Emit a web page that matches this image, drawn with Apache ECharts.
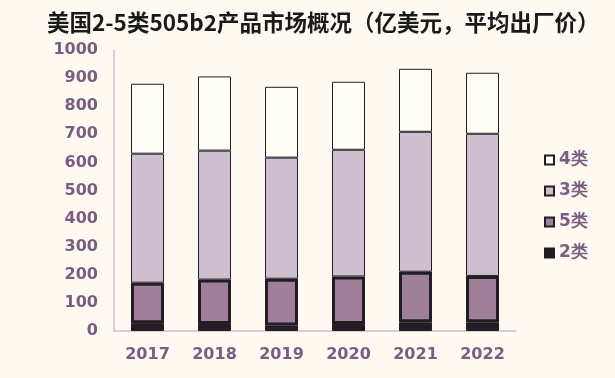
<!DOCTYPE html>
<html>
<head>
<meta charset="utf-8">
<script src="https://cdn.jsdelivr.net/npm/echarts@6/dist/echarts.min.js"></script>
<style>
  html, body { margin: 0; padding: 0; background: #fefaf2; }
  #chart { width: 615px; height: 378px; }
</style>
</head>
<body>
<div id="chart"></div>
<script>
// 年份
var years = ['2017', '2018', '2019', '2020', '2021', '2022'];
// 各类产品市场规模（亿美元）
var cls2 = [28, 25, 20, 25, 31, 31];
var cls5 = [144, 158, 166, 169, 180, 165];
var cls3 = [459, 459, 431, 451, 498, 506];
var cls4 = [249, 264, 252, 242, 224, 217];
var legendNames = ['4类', '3类', '5类', '2类'];

var dark = '#231c25';
var purple = '#7b5c82';
var labelFont = 'DejaVu Sans';

var myChart = echarts.init(document.getElementById('chart'));
myChart.setOption({
  backgroundColor: '#fefaf2',
  animation: false,
  title: {
    text: '美国2-5类505b2产品市场概况（亿美元，平均出厂价）',
    left: 42,
    top: 6,
    textStyle: {
      fontFamily: 'Noto Sans CJK SC',
      fontSize: 22.5,
      fontWeight: 'bold',
      color: '#1a1a1a'
    }
  },
  legend: {
    orient: 'vertical',
    left: 539,
    top: 145,
    icon: 'rect',
    itemWidth: 9,
    itemHeight: 9,
    itemGap: 11,
    data: legendNames,
    textStyle: {
      fontFamily: labelFont,
      fontSize: 17,
      fontWeight: 'bold',
      color: purple,
      lineHeight: 20
    }
  },
  grid: {
    left: 114,
    right: 99,
    top: 50,
    bottom: 47
  },
  xAxis: {
    type: 'category',
    data: years,
    axisLine: { lineStyle: { color: '#cdbfd0', width: 1.5 } },
    axisTick: { show: false },
    axisLabel: {
      fontFamily: labelFont,
      fontSize: 16,
      fontWeight: 'bold',
      color: purple,
      margin: 16
    }
  },
  yAxis: {
    type: 'value',
    min: 0,
    max: 1000,
    interval: 100,
    splitLine: { show: false },
    axisLine: { show: true, lineStyle: { color: '#cdbfd0', width: 1.5 } },
    axisTick: { show: false },
    axisLabel: {
      fontFamily: labelFont,
      fontSize: 16,
      fontWeight: 'bold',
      color: purple,
      margin: 16,
      formatter: function (v) { return String(v); }
    }
  },
  series: [
    {
      name: '2类',
      type: 'bar',
      stack: 'total',
      barWidth: 33,
      data: cls2,
      itemStyle: { color: dark, borderColor: dark, borderWidth: 1 }
    },
    {
      name: '5类',
      type: 'bar',
      stack: 'total',
      data: cls5,
      itemStyle: { color: '#9e8199', borderColor: dark, borderWidth: 3 }
    },
    {
      name: '3类',
      type: 'bar',
      stack: 'total',
      data: cls3,
      itemStyle: { color: '#cfc0d0', borderColor: dark, borderWidth: 1 }
    },
    {
      name: '4类',
      type: 'bar',
      stack: 'total',
      data: cls4,
      itemStyle: { color: '#fffdf6', borderColor: dark, borderWidth: 1 }
    }
  ]
});
</script>
</body>
</html>
